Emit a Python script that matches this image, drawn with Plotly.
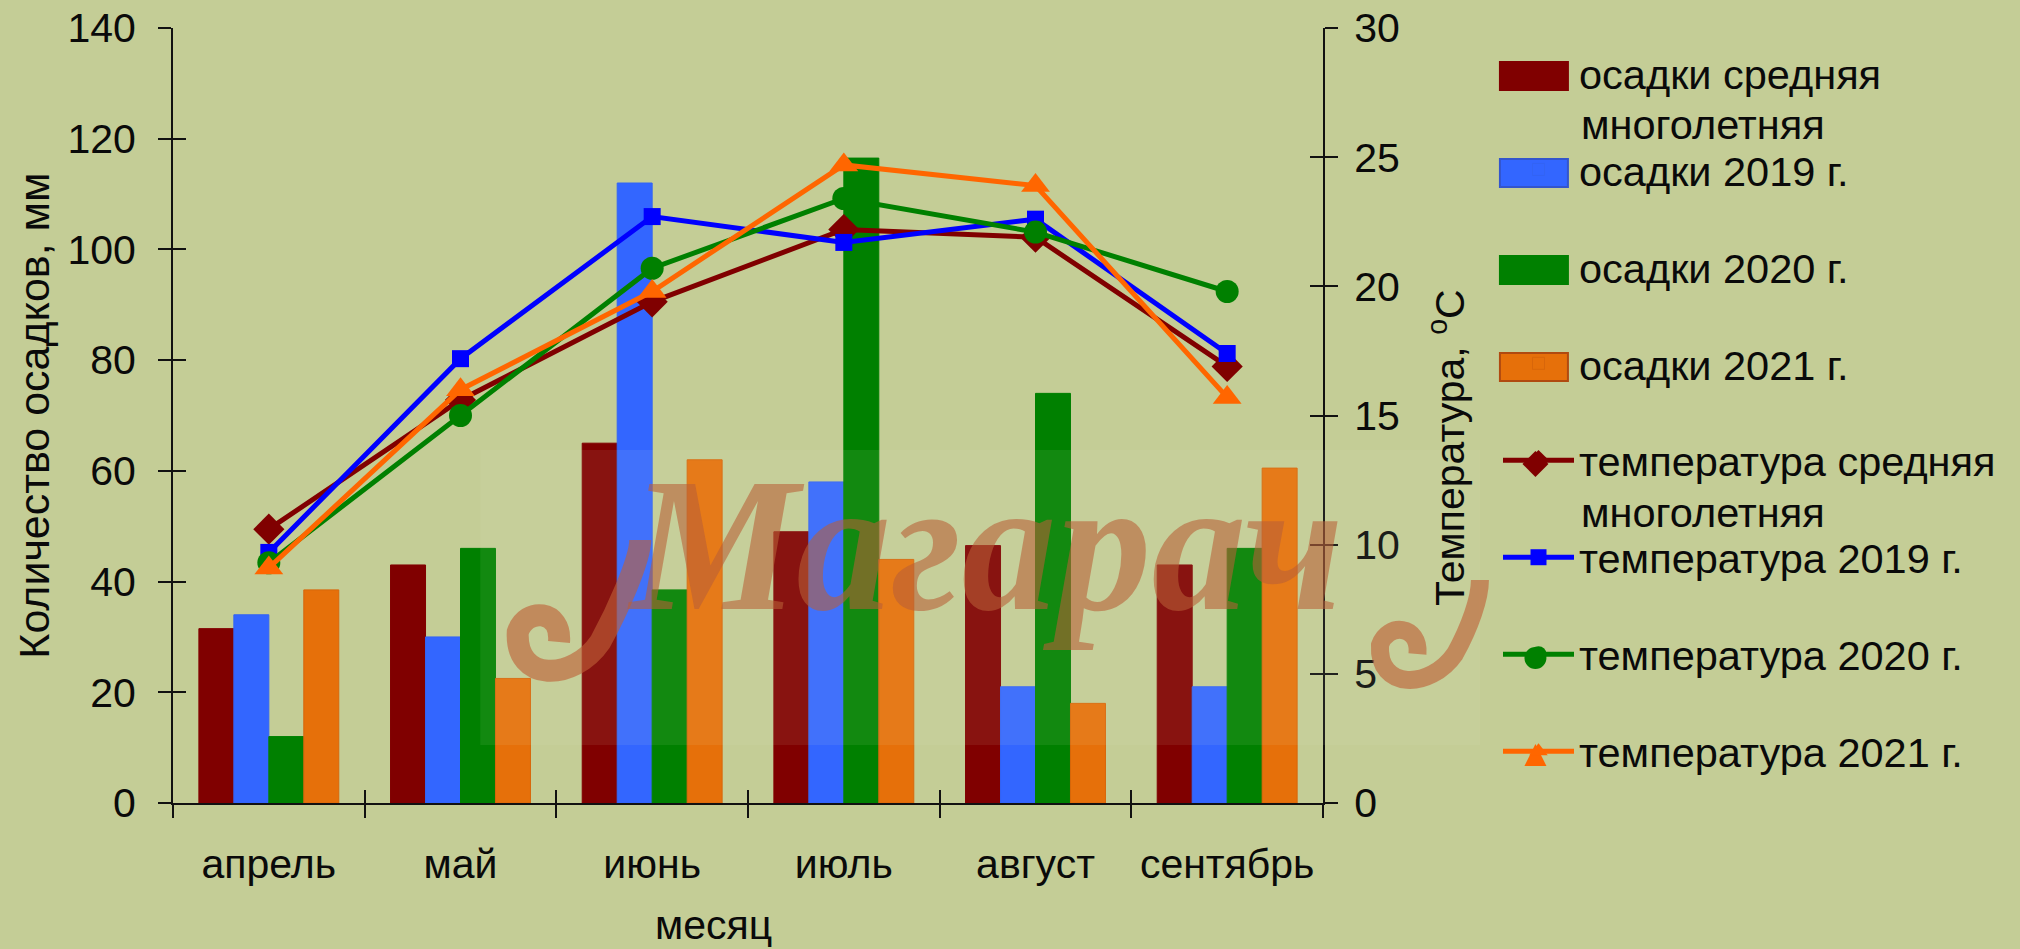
import plotly.graph_objects as go

months = ["апрель", "май", "июнь", "июль", "август", "сентябрь"]

rain_avg = [31.5, 43, 65, 49, 46.5, 43]
rain_2019 = [34, 30, 112, 58, 21, 21]
rain_2020 = [12, 46, 38.5, 116.5, 74, 46]
rain_2021 = [38.5, 22.5, 62, 44, 18, 60.5]

temp_avg = [10.6, 15.6, 19.4, 22.2, 21.9, 16.9]
temp_2019 = [9.7, 17.2, 22.7, 21.7, 22.6, 17.4]
temp_2020 = [9.3, 15.0, 20.7, 23.4, 22.1, 19.8]
temp_2021 = [9.1, 16.0, 19.8, 24.7, 23.9, 15.7]

rain_names = ["осадки средняя", "осадки 2019 г.", "осадки 2020 г.", "осадки 2021 г."]
temp_names = ["температура средняя", "температура 2019 г.", "температура 2020 г.", "температура 2021 г."]

bar_colors = ["#800000", "#3366FF", "#008000", "#E6700A"]
bar_lines = ["#800000", "#3364f4", "#008000", "#d8660a"]
swatch_lines = ["#800000", "#3355cc", "#008000", "#b04a10"]
line_colors = ["#800000", "#0000FF", "#008000", "#FF6600"]
symbols = ["diamond", "square", "circle", "triangle-up"]
sizes = [24, 17, 23, 25]

BG = "#C4CD96"
FONT = "Liberation Sans"
W, H = 2020, 949
L, R, T, B = 172.6, 1323, 28, 803


def px(x):
    return (x - L) / (R - L)


def py(y):
    return (B - y) / (B - T)


fig = go.Figure()

for name, vals, c, lc in zip(rain_names, [rain_avg, rain_2019, rain_2020, rain_2021], bar_colors, bar_lines):
    fig.add_trace(go.Bar(x=months, y=vals, marker=dict(color=c, line=dict(color=lc, width=1)),
                         name=name, legendgroup=name, yaxis="y"))

for name, vals, c, s, sz in zip(temp_names, [temp_avg, temp_2019, temp_2020, temp_2021], line_colors, symbols, sizes):
    fig.add_trace(go.Scatter(x=months, y=vals, mode="lines+markers", name=name, legendgroup=name,
                             line=dict(color=c, width=5), marker=dict(symbol=s, size=sz, color=c), yaxis="y2"))

axis_font = dict(family=FONT, size=41, color="#0a0a0a")
title_font = dict(family=FONT, size=41, color="#0a0a0a")
leg_font = dict(family=FONT, size=41.5, color="#0a0a0a")
LEG_X0, LEG_X1 = 1500, 1568
LEG_Y0, LEG_DY = 76, 97
legend_shapes = []
for i, (c, lc) in enumerate(zip(bar_colors, swatch_lines)):
    yc = LEG_Y0 + i * LEG_DY
    legend_shapes.append(dict(type="rect", xref="paper", yref="paper", layer="above", x0=px(LEG_X0), x1=px(LEG_X1),
                              y0=py(yc + 14), y1=py(yc - 14), fillcolor=c, line=dict(color=lc, width=2)))
mx = (LEG_X0 + LEG_X1 + 3) / 2
for i, (shape, c) in zip([4, 6, 7], [("d", line_colors[0]), ("c", line_colors[2]), ("t", line_colors[3])]):
    yc = LEG_Y0 + i * LEG_DY
    if shape == "c":
        legend_shapes.append(dict(type="circle", xref="paper", yref="paper", layer="above", x0=px(mx - 11),
                                  x1=px(mx + 11), y0=py(yc + 11), y1=py(yc - 11), fillcolor=c, line_width=0))
    else:
        pts = ([(mx - 13, yc), (mx, yc - 13), (mx + 13, yc), (mx, yc + 13)] if shape == "d"
               else [(mx - 11, yc + 11), (mx, yc - 11), (mx + 11, yc + 11)])
        path = "M" + " L".join(f"{px(a):.5f},{py(b):.5f}" for a, b in pts) + " Z"
        legend_shapes.append(dict(type="path", path=path, xref="paper", yref="paper", layer="above",
                                  fillcolor=c, line_width=0))


def swirl(cx, cy, rx, ry, tail_x, tail_y, width):
    pts = [
        (cx + rx * 0.25, cy + ry * 0.2), (cx + rx * 0.3, cy - ry * 0.45), (cx - rx * 0.35, cy - ry * 0.5),
        (cx - rx * 0.5, cy), (cx - rx * 0.55, cy + ry), (cx + rx * 0.5, cy + ry * 1.0),
        (cx + rx, cy + ry * 0.2), (cx + rx * 1.3, cy - ry * 0.4), (tail_x, tail_y + ry * 0.4),
        (tail_x, tail_y),
    ]
    d = f"M{px(pts[0][0]):.5f},{py(pts[0][1]):.5f}"
    for k in range(1, len(pts), 3):
        d += " C" + " ".join(f"{px(a):.5f},{py(b):.5f}" for a, b in pts[k:k + 3])
    return dict(type="path", path=d, xref="paper", yref="paper", layer="above", fillcolor="rgba(0,0,0,0)",
                line=dict(color="rgba(190,95,55,0.62)", width=width))


halo = dict(type="rect", xref="paper", yref="paper", layer="above", x0=px(480), x1=px(1480), y0=py(745), y1=py(450),
            fillcolor="rgba(235,240,200,0.08)", line_width=0)

fig.update_layout(
    width=W, height=H, paper_bgcolor=BG, plot_bgcolor=BG,
    margin=dict(l=L, r=W - R, t=T, b=H - B, autoexpand=False),
    barmode="group", bargap=0.27, bargroupgap=0,
    font=axis_font,
    legend=dict(xref="container", yref="container", x=1498 / W, y=1 - 39 / H, xanchor="left", yanchor="top",
                bgcolor="rgba(0,0,0,0)", itemwidth=71, tracegroupgap=40, traceorder="grouped", maxheight=900,
                font=leg_font, itemclick=False),
    xaxis=dict(type="category", categoryorder="array", categoryarray=months, tickson="boundaries",
               ticks="outside", ticklen=13, tickcolor="#111", tickwidth=2, showline=True, linecolor="#111",
               linewidth=2, showgrid=False, zeroline=False, ticklabelstandoff=24, tickfont=axis_font),
    xaxis2=dict(type="category", categoryorder="array", categoryarray=months, tickson="boundaries",
                overlaying="x", side="bottom", anchor="y", matches="x", ticks="inside", ticklen=13, tickcolor="#111",
                tickwidth=2, showticklabels=False, showgrid=False, zeroline=False),
    yaxis=dict(range=[0, 140], dtick=20, ticks="outside", ticklen=13, tickcolor="#111", tickwidth=2,
               showline=True, linecolor="#111", linewidth=2, showgrid=False, zeroline=False, tickfont=axis_font,
               ticklabelstandoff=14,
               title=dict(text="Количество осадков, мм", font=dict(family=FONT, size=43, color="#0a0a0a"), standoff=4)),
    yaxis2=dict(range=[0, 30], dtick=5, overlaying="y", side="right", ticks="outside", ticklen=13, tickcolor="#111",
                tickwidth=2, showline=True, linecolor="#111", linewidth=2, showgrid=False, zeroline=False,
                tickfont=axis_font, ticklabelstandoff=8),
    yaxis3=dict(range=[0, 140], dtick=20, overlaying="y", side="left", ticks="inside", ticklen=13, tickcolor="#111",
                tickwidth=2, showticklabels=False, showgrid=False, zeroline=False),
    yaxis4=dict(range=[0, 30], dtick=5, overlaying="y", side="right", ticks="inside", ticklen=13, tickcolor="#111",
                tickwidth=2, showticklabels=False, showgrid=False, zeroline=False),
    annotations=[
        dict(text="месяц", xref="paper", yref="paper", x=px(713), y=py(925), xanchor="center", yanchor="middle",
             showarrow=False, font=title_font),
        dict(text="Температура, <sup>o</sup>C", xref="paper", yref="paper", x=px(1447), y=py(447), xanchor="center",
             yanchor="middle", textangle=-90, showarrow=False, font=axis_font),
        dict(text="многолетняя", xref="paper", yref="paper", x=px(1579), y=py(LEG_Y0 + 48), xanchor="left",
             yanchor="middle", showarrow=False, font=leg_font),
        dict(text="многолетняя", xref="paper", yref="paper", x=px(1579), y=py(LEG_Y0 + 4 * LEG_DY + 48), xanchor="left",
             yanchor="middle", showarrow=False, font=leg_font),
        dict(text="<b><i>Магарач</i></b>", xref="paper", yref="paper", x=px(985), y=py(545), xanchor="center",
             yanchor="middle", showarrow=False, font=dict(family="Liberation Serif", size=190, color="rgba(185,95,55,0.58)")),
    ],
    shapes=[halo, swirl(545, 632, 55, 50, 640, 540, 22), swirl(1405, 645, 50, 45, 1480, 580, 18)] + legend_shapes,
)

# empty traces bind the overlay axes that draw the inner half of the crossing ticks
fig.add_trace(go.Scatter(x=[None], y=[None], xaxis="x2", yaxis="y3", showlegend=False, hoverinfo="skip"))
fig.add_trace(go.Scatter(x=[None], y=[None], yaxis="y4", showlegend=False, hoverinfo="skip"))

fig.write_html("out.html", config={"displayModeBar": False},
               post_script="document.body.style.margin='0';document.body.style.background='" + BG + "';")
